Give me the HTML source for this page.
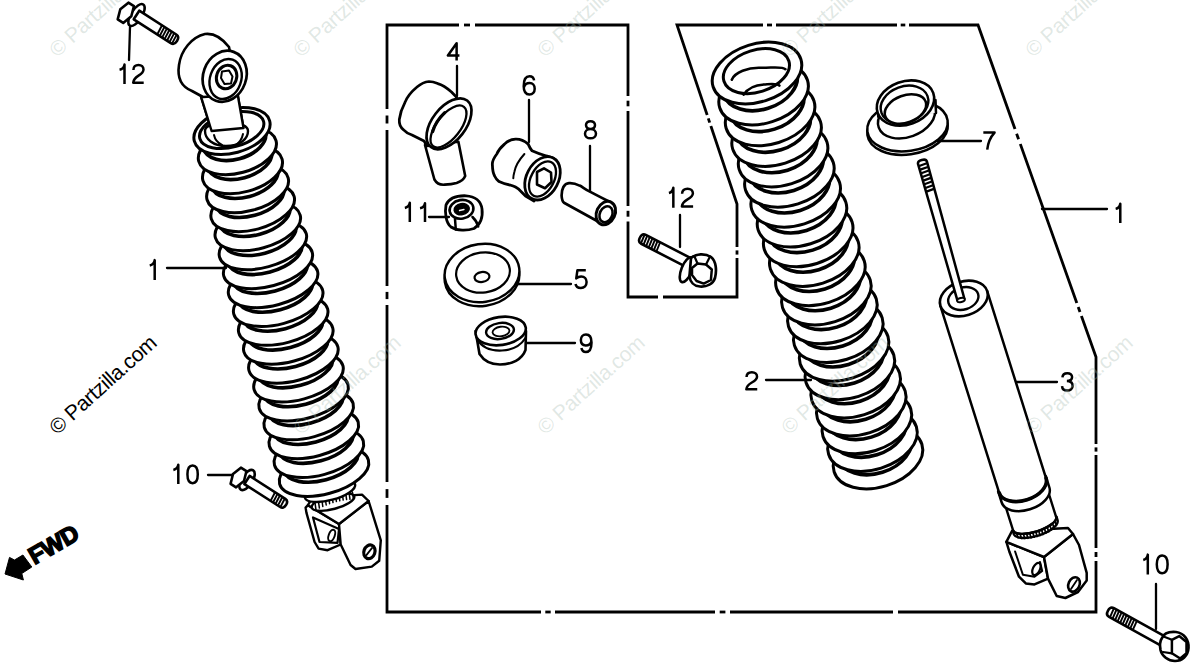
<!DOCTYPE html>
<html><head><meta charset="utf-8"><style>
html,body{margin:0;padding:0;background:#fff;}
svg{display:block;font-family:"Liberation Sans",sans-serif;}
</style></head><body>
<svg width="1200" height="672" viewBox="0 0 1200 672">
<rect width="1200" height="672" fill="#fff"/>
<path d="M387,25 L628,25 L628,297 L737,297 L737,204 L677,25 L978,25 L1096,357 L1096,612 L387,612 Z" fill="none" stroke="#000" stroke-width="2.8" stroke-linejoin="miter"/>
<line x1="459.0" y1="25.0" x2="475.0" y2="25.0" stroke="#fff" stroke-width="5"/>
<line x1="464.0" y1="25.0" x2="470.0" y2="25.0" stroke="#000" stroke-width="2.8"/>
<line x1="628.0" y1="96.0" x2="628.0" y2="111.0" stroke="#fff" stroke-width="5"/>
<line x1="628.0" y1="100.7" x2="628.0" y2="106.3" stroke="#000" stroke-width="2.8"/>
<line x1="628.0" y1="206.0" x2="628.0" y2="221.5" stroke="#fff" stroke-width="5"/>
<line x1="628.0" y1="210.8" x2="628.0" y2="216.7" stroke="#000" stroke-width="2.8"/>
<line x1="658.0" y1="297.0" x2="663.0" y2="297.0" stroke="#fff" stroke-width="5"/>
<line x1="737.0" y1="247.0" x2="737.0" y2="258.0" stroke="#fff" stroke-width="5"/>
<line x1="737.0" y1="250.4" x2="737.0" y2="254.6" stroke="#000" stroke-width="2.8"/>
<line x1="707.2" y1="115.0" x2="710.9" y2="126.0" stroke="#fff" stroke-width="5"/>
<line x1="708.3" y1="118.4" x2="709.7" y2="122.6" stroke="#000" stroke-width="2.8"/>
<line x1="763.0" y1="25.0" x2="776.0" y2="25.0" stroke="#fff" stroke-width="5"/>
<line x1="767.0" y1="25.0" x2="772.0" y2="25.0" stroke="#000" stroke-width="2.8"/>
<line x1="897.0" y1="25.0" x2="909.0" y2="25.0" stroke="#fff" stroke-width="5"/>
<line x1="900.7" y1="25.0" x2="905.3" y2="25.0" stroke="#000" stroke-width="2.8"/>
<line x1="1015.0" y1="129.0" x2="1020.3" y2="144.0" stroke="#fff" stroke-width="5"/>
<line x1="1016.6" y1="133.7" x2="1018.6" y2="139.3" stroke="#000" stroke-width="2.8"/>
<line x1="1076.8" y1="303.0" x2="1081.4" y2="316.0" stroke="#fff" stroke-width="5"/>
<line x1="1078.2" y1="307.0" x2="1080.0" y2="312.0" stroke="#000" stroke-width="2.8"/>
<line x1="1096.0" y1="444.0" x2="1096.0" y2="455.0" stroke="#fff" stroke-width="5"/>
<line x1="1096.0" y1="447.4" x2="1096.0" y2="451.6" stroke="#000" stroke-width="2.8"/>
<line x1="1096.0" y1="548.0" x2="1096.0" y2="561.0" stroke="#fff" stroke-width="5"/>
<line x1="1096.0" y1="552.0" x2="1096.0" y2="557.0" stroke="#000" stroke-width="2.8"/>
<line x1="541.0" y1="612.0" x2="555.0" y2="612.0" stroke="#fff" stroke-width="5"/>
<line x1="545.3" y1="612.0" x2="550.7" y2="612.0" stroke="#000" stroke-width="2.8"/>
<line x1="715.0" y1="612.0" x2="730.0" y2="612.0" stroke="#fff" stroke-width="5"/>
<line x1="719.7" y1="612.0" x2="725.4" y2="612.0" stroke="#000" stroke-width="2.8"/>
<line x1="893.0" y1="612.0" x2="898.0" y2="612.0" stroke="#fff" stroke-width="5"/>
<line x1="387.0" y1="109.0" x2="387.0" y2="130.0" stroke="#fff" stroke-width="5"/>
<line x1="387.0" y1="115.5" x2="387.0" y2="123.5" stroke="#000" stroke-width="2.8"/>
<line x1="387.0" y1="286.0" x2="387.0" y2="305.0" stroke="#fff" stroke-width="5"/>
<line x1="387.0" y1="291.9" x2="387.0" y2="299.1" stroke="#000" stroke-width="2.8"/>
<line x1="387.0" y1="482.0" x2="387.0" y2="505.0" stroke="#fff" stroke-width="5"/>
<line x1="387.0" y1="489.1" x2="387.0" y2="497.9" stroke="#000" stroke-width="2.8"/>
<path d="M305.6,507.6 L306.4,512.6 L314.6,542.0 L318.6,548.6 L327.6,550.2 L340.7,544.5 L339.0,524.0 L308.0,505.2 Z" fill="#fff" stroke="#000" stroke-width="2.4" stroke-linejoin="round" stroke-linecap="round"/>
<path d="M313.0,517.5 L319.5,542.0 L337.5,542.8 L339.0,529.0 L313.0,517.5" fill="none" stroke="#000" stroke-width="2.2" stroke-linejoin="round" stroke-linecap="round"/>
<path d="M339.0,524.0 L368.6,501.0 L380.8,540.4 L379.2,560.8 L371.8,566.6 L355.5,569.0 L350.6,565.0 L340.7,544.5 Z" fill="#fff" stroke="#000" stroke-width="2.4" stroke-linejoin="round" stroke-linecap="round"/>
<path d="M308.0,505.2 L339.0,524.0 L368.6,501.0 L362.0,494.6 L312.0,498.0 Z" fill="#fff" stroke="#000" stroke-width="2.4" stroke-linejoin="round" stroke-linecap="round"/>
<ellipse cx="369.4" cy="551.8" rx="5.5" ry="7.0" transform="rotate(20.0 369.4 551.8)" fill="#fff" stroke="#000" stroke-width="3.2"/>
<line x1="366.5" y1="555.0" x2="372.0" y2="548.0" stroke="#000" stroke-width="2" stroke-linecap="round"/>
<ellipse cx="331.7" cy="535.5" rx="3.0" ry="6.0" transform="rotate(20.0 331.7 535.5)" fill="#fff" stroke="#000" stroke-width="2"/>
<ellipse cx="333.0" cy="502.0" rx="22.0" ry="7.0" transform="rotate(-15.0 333.0 502.0)" fill="#fff" stroke="#000" stroke-width="2.4"/>
<line x1="315.0" y1="502.9" x2="316.0" y2="509.9" stroke="#000" stroke-width="1.5" stroke-linecap="round"/>
<line x1="318.4" y1="501.1" x2="319.4" y2="508.1" stroke="#000" stroke-width="1.5" stroke-linecap="round"/>
<line x1="321.8" y1="499.5" x2="322.8" y2="506.5" stroke="#000" stroke-width="1.5" stroke-linecap="round"/>
<line x1="325.2" y1="498.0" x2="326.2" y2="505.0" stroke="#000" stroke-width="1.5" stroke-linecap="round"/>
<line x1="328.6" y1="496.7" x2="329.6" y2="503.7" stroke="#000" stroke-width="1.5" stroke-linecap="round"/>
<line x1="332.0" y1="495.6" x2="333.0" y2="502.6" stroke="#000" stroke-width="1.5" stroke-linecap="round"/>
<line x1="335.4" y1="494.6" x2="336.4" y2="501.6" stroke="#000" stroke-width="1.5" stroke-linecap="round"/>
<line x1="338.8" y1="493.8" x2="339.8" y2="500.8" stroke="#000" stroke-width="1.5" stroke-linecap="round"/>
<line x1="342.2" y1="493.1" x2="343.2" y2="500.1" stroke="#000" stroke-width="1.5" stroke-linecap="round"/>
<line x1="345.6" y1="492.6" x2="346.6" y2="499.6" stroke="#000" stroke-width="1.5" stroke-linecap="round"/>
<line x1="349.0" y1="492.3" x2="350.0" y2="499.3" stroke="#000" stroke-width="1.5" stroke-linecap="round"/>
<line x1="352.4" y1="492.1" x2="353.4" y2="499.1" stroke="#000" stroke-width="1.5" stroke-linecap="round"/>
<ellipse cx="330.0" cy="491.0" rx="26.0" ry="9.0" transform="rotate(-15.0 330.0 491.0)" fill="#fff" stroke="#000" stroke-width="2.4"/>
<ellipse cx="324.0" cy="472.0" rx="46.0" ry="22.0" transform="rotate(-15.1 324.0 472.0)" fill="#fff" stroke="#000" stroke-width="3.0"/>
<ellipse cx="321.1" cy="461.4" rx="38.0" ry="19.0" transform="rotate(-15.1 321.1 461.4)" fill="#fff" stroke="#000" stroke-width="3.5999999999999996"/>
<ellipse cx="318.9" cy="453.1" rx="46.0" ry="22.0" transform="rotate(-15.1 318.9 453.1)" fill="#fff" stroke="#000" stroke-width="3.0"/>
<ellipse cx="316.0" cy="442.5" rx="38.0" ry="19.0" transform="rotate(-15.1 316.0 442.5)" fill="#fff" stroke="#000" stroke-width="3.5999999999999996"/>
<ellipse cx="313.8" cy="434.2" rx="46.0" ry="22.0" transform="rotate(-15.1 313.8 434.2)" fill="#fff" stroke="#000" stroke-width="3.0"/>
<ellipse cx="310.9" cy="423.6" rx="38.0" ry="19.0" transform="rotate(-15.1 310.9 423.6)" fill="#fff" stroke="#000" stroke-width="3.5999999999999996"/>
<ellipse cx="308.7" cy="415.4" rx="46.0" ry="22.0" transform="rotate(-15.1 308.7 415.4)" fill="#fff" stroke="#000" stroke-width="3.0"/>
<ellipse cx="305.9" cy="404.7" rx="38.0" ry="19.0" transform="rotate(-15.1 305.9 404.7)" fill="#fff" stroke="#000" stroke-width="3.5999999999999996"/>
<ellipse cx="303.6" cy="396.5" rx="46.0" ry="22.0" transform="rotate(-15.1 303.6 396.5)" fill="#fff" stroke="#000" stroke-width="3.0"/>
<ellipse cx="300.8" cy="385.9" rx="38.0" ry="19.0" transform="rotate(-15.1 300.8 385.9)" fill="#fff" stroke="#000" stroke-width="3.5999999999999996"/>
<ellipse cx="298.5" cy="377.6" rx="46.0" ry="22.0" transform="rotate(-15.1 298.5 377.6)" fill="#fff" stroke="#000" stroke-width="3.0"/>
<ellipse cx="295.7" cy="367.0" rx="38.0" ry="19.0" transform="rotate(-15.1 295.7 367.0)" fill="#fff" stroke="#000" stroke-width="3.5999999999999996"/>
<ellipse cx="293.4" cy="358.7" rx="46.0" ry="22.0" transform="rotate(-15.1 293.4 358.7)" fill="#fff" stroke="#000" stroke-width="3.0"/>
<ellipse cx="290.6" cy="348.1" rx="38.0" ry="19.0" transform="rotate(-15.1 290.6 348.1)" fill="#fff" stroke="#000" stroke-width="3.5999999999999996"/>
<ellipse cx="288.3" cy="339.8" rx="46.0" ry="22.0" transform="rotate(-15.1 288.3 339.8)" fill="#fff" stroke="#000" stroke-width="3.0"/>
<ellipse cx="285.5" cy="329.2" rx="38.0" ry="19.0" transform="rotate(-15.1 285.5 329.2)" fill="#fff" stroke="#000" stroke-width="3.5999999999999996"/>
<ellipse cx="283.2" cy="320.9" rx="46.0" ry="22.0" transform="rotate(-15.1 283.2 320.9)" fill="#fff" stroke="#000" stroke-width="3.0"/>
<ellipse cx="280.4" cy="310.3" rx="38.0" ry="19.0" transform="rotate(-15.1 280.4 310.3)" fill="#fff" stroke="#000" stroke-width="3.5999999999999996"/>
<ellipse cx="278.2" cy="302.1" rx="46.0" ry="22.0" transform="rotate(-15.1 278.2 302.1)" fill="#fff" stroke="#000" stroke-width="3.0"/>
<ellipse cx="275.3" cy="291.4" rx="38.0" ry="19.0" transform="rotate(-15.1 275.3 291.4)" fill="#fff" stroke="#000" stroke-width="3.5999999999999996"/>
<ellipse cx="273.1" cy="283.2" rx="46.0" ry="22.0" transform="rotate(-15.1 273.1 283.2)" fill="#fff" stroke="#000" stroke-width="3.0"/>
<ellipse cx="270.2" cy="272.6" rx="38.0" ry="19.0" transform="rotate(-15.1 270.2 272.6)" fill="#fff" stroke="#000" stroke-width="3.5999999999999996"/>
<ellipse cx="268.0" cy="264.3" rx="45.8" ry="22.0" transform="rotate(-15.1 268.0 264.3)" fill="#fff" stroke="#000" stroke-width="3.0"/>
<ellipse cx="265.1" cy="253.7" rx="37.8" ry="19.0" transform="rotate(-15.1 265.1 253.7)" fill="#fff" stroke="#000" stroke-width="3.5999999999999996"/>
<ellipse cx="262.9" cy="245.4" rx="44.9" ry="22.0" transform="rotate(-15.1 262.9 245.4)" fill="#fff" stroke="#000" stroke-width="3.0"/>
<ellipse cx="260.0" cy="234.8" rx="36.9" ry="19.0" transform="rotate(-15.1 260.0 234.8)" fill="#fff" stroke="#000" stroke-width="3.5999999999999996"/>
<ellipse cx="257.8" cy="226.5" rx="43.9" ry="22.0" transform="rotate(-15.1 257.8 226.5)" fill="#fff" stroke="#000" stroke-width="3.0"/>
<ellipse cx="254.9" cy="215.9" rx="35.9" ry="19.0" transform="rotate(-15.1 254.9 215.9)" fill="#fff" stroke="#000" stroke-width="3.5999999999999996"/>
<ellipse cx="252.7" cy="207.6" rx="42.9" ry="22.0" transform="rotate(-15.1 252.7 207.6)" fill="#fff" stroke="#000" stroke-width="3.0"/>
<ellipse cx="249.8" cy="197.0" rx="34.9" ry="19.0" transform="rotate(-15.1 249.8 197.0)" fill="#fff" stroke="#000" stroke-width="3.5999999999999996"/>
<ellipse cx="247.6" cy="188.8" rx="42.0" ry="22.0" transform="rotate(-15.1 247.6 188.8)" fill="#fff" stroke="#000" stroke-width="3.0"/>
<ellipse cx="244.7" cy="178.1" rx="34.0" ry="19.0" transform="rotate(-15.1 244.7 178.1)" fill="#fff" stroke="#000" stroke-width="3.5999999999999996"/>
<ellipse cx="242.5" cy="169.9" rx="41.0" ry="22.0" transform="rotate(-15.1 242.5 169.9)" fill="#fff" stroke="#000" stroke-width="3.0"/>
<ellipse cx="239.6" cy="159.3" rx="33.0" ry="19.0" transform="rotate(-15.1 239.6 159.3)" fill="#fff" stroke="#000" stroke-width="3.5999999999999996"/>
<ellipse cx="237.4" cy="151.0" rx="40.0" ry="22.0" transform="rotate(-15.1 237.4 151.0)" fill="#fff" stroke="#000" stroke-width="3.0"/>
<ellipse cx="234.5" cy="140.4" rx="32.0" ry="19.0" transform="rotate(-15.1 234.5 140.4)" fill="#fff" stroke="#000" stroke-width="3.5999999999999996"/>
<ellipse cx="232.0" cy="131.0" rx="39.0" ry="22.0" transform="rotate(-15.1 232.0 131.0)" fill="#fff" stroke="#000" stroke-width="3.0"/>
<ellipse cx="231.7" cy="130.0" rx="33.0" ry="17.0" transform="rotate(-15.1 231.7 130.0)" fill="#fff" stroke="#000" stroke-width="3.0"/>
<path d="M201.0,96.6 L211.6,131.0 L243.5,128.0 L237.7,94.7 Z" fill="#fff" stroke="#000" stroke-width="2.4" stroke-linejoin="round" stroke-linecap="round"/>
<path d="M205,131 C205,139 213,146 226,146 C240,146 248,139 248,131 C248,126 240,123 226,123 C213,123 205,126 205,131 Z" fill="#fff" stroke="#000" stroke-width="2.4" stroke-linejoin="round" stroke-linecap="round"/>
<path d="M214,135 C215,140 218,143 222,145 M236,145 C240,142 242,139 243,134" fill="none" stroke="#000" stroke-width="2" stroke-linejoin="round" stroke-linecap="round"/>
<path d="M201.0,96.6 L211.6,131.0 L243.5,128.0 L237.7,94.7 Z" fill="#fff" stroke="#000" stroke-width="2.4" stroke-linejoin="round" stroke-linecap="round"/>
<path d="M229,47 C222,38 213,33 205,34 C192,37 181,50 179,65 C177,78 182,87 192,91 L203,97 L238,95 Z" fill="#fff" stroke="#000" stroke-width="2.6" stroke-linejoin="round" stroke-linecap="round"/>
<ellipse cx="224.7" cy="76.3" rx="21.5" ry="26.0" transform="rotate(20.0 224.7 76.3)" fill="#fff" stroke="#000" stroke-width="2.7"/>
<ellipse cx="225.6" cy="79.0" rx="15.5" ry="20.5" transform="rotate(20.0 225.6 79.0)" fill="#fff" stroke="#000" stroke-width="2.4"/>
<ellipse cx="226.6" cy="77.0" rx="10.0" ry="12.0" transform="rotate(20.0 226.6 77.0)" fill="#fff" stroke="#000" stroke-width="3"/>
<path d="M222.0,71.5 L229.0,70.5 L232.5,76.5 L231.0,83.5 L224.5,84.0 L221.0,78.0 Z" fill="none" stroke="#000" stroke-width="2" stroke-linejoin="round" stroke-linecap="round"/>
<ellipse cx="136.5" cy="15.0" rx="5.5" ry="12.5" transform="rotate(32.7 136.5 15.0)" fill="#fff" stroke="#000" stroke-width="2.6"/>
<path d="M131.3,16.3 L123.2,22.9 L117.7,19.4 L120.3,9.3 L128.4,2.7 L133.9,6.2 Z" fill="#fff" stroke="#000" stroke-width="2.6" stroke-linejoin="round" stroke-linecap="round"/>
<g transform="translate(136.5 15.0) rotate(32.7)" stroke-linejoin="round"><path d="M0.0,-5.1 L44.0,-5.1 Q48.1,-5.1 48.1,0 Q48.1,5.1 44.0,5.1 L0.0,5.1 Z" fill="#fff" stroke="#000" stroke-width="2.6"/><line x1="27.1" y1="-4.6" x2="27.9" y2="4.6" stroke="#000" stroke-width="1.9"/><line x1="30.0" y1="-4.6" x2="30.8" y2="4.6" stroke="#000" stroke-width="1.9"/><line x1="32.9" y1="-4.6" x2="33.7" y2="4.6" stroke="#000" stroke-width="1.9"/><line x1="35.8" y1="-4.6" x2="36.6" y2="4.6" stroke="#000" stroke-width="1.9"/><line x1="38.7" y1="-4.6" x2="39.5" y2="4.6" stroke="#000" stroke-width="1.9"/><line x1="41.6" y1="-4.6" x2="42.4" y2="4.6" stroke="#000" stroke-width="1.9"/><line x1="44.5" y1="-4.6" x2="45.3" y2="4.6" stroke="#000" stroke-width="1.9"/></g>
<ellipse cx="247.0" cy="480.0" rx="5.5" ry="11.5" transform="rotate(32.7 247.0 480.0)" fill="#fff" stroke="#000" stroke-width="2.6"/>
<path d="M244.0,481.0 L236.1,487.3 L230.6,483.8 L233.0,474.0 L240.9,467.7 L246.4,471.2 Z" fill="#fff" stroke="#000" stroke-width="2.6" stroke-linejoin="round" stroke-linecap="round"/>
<g transform="translate(247.0 480.0) rotate(32.7)" stroke-linejoin="round"><path d="M0.0,-4.8 L42.5,-4.8 Q46.3,-4.8 46.3,0 Q46.3,4.8 42.5,4.8 L0.0,4.8 Z" fill="#fff" stroke="#000" stroke-width="2.6"/><line x1="30.3" y1="-4.3" x2="31.1" y2="4.3" stroke="#000" stroke-width="1.9"/><line x1="33.2" y1="-4.3" x2="34.0" y2="4.3" stroke="#000" stroke-width="1.9"/><line x1="36.1" y1="-4.3" x2="36.9" y2="4.3" stroke="#000" stroke-width="1.9"/><line x1="39.0" y1="-4.3" x2="39.8" y2="4.3" stroke="#000" stroke-width="1.9"/><line x1="41.9" y1="-4.3" x2="42.7" y2="4.3" stroke="#000" stroke-width="1.9"/></g>
<path d="M425,145 L434.4,179.5 C437,184 441,185 444.7,184.6 C449,184.5 453,184 456.6,183 C461,181.5 464,179 465.2,176 L458.4,141.8 Z" fill="#fff" stroke="#000" stroke-width="2.6" stroke-linejoin="round" stroke-linecap="round"/>
<path d="M456.6,97.3 L451.5,92 C447,88 443,85 437.8,83.6 C434,82 431,81.5 429,81.5 C424,82 420,84.5 417,87 C411,92 407,97 405,102.4 C402,108 400,114 399.3,119.5 C399,124 400.5,127.5 403.6,129.8 C406,132.5 409,134 412,135 C416,137 420,139 424,141 L427,146 L440,145 Z" fill="#fff" stroke="#000" stroke-width="2.7" stroke-linejoin="round" stroke-linecap="round"/>
<ellipse cx="449.0" cy="123.8" rx="29.5" ry="16.8" transform="rotate(-52.0 449.0 123.8)" fill="#fff" stroke="#000" stroke-width="2.7"/>
<ellipse cx="448.5" cy="126.5" rx="25.0" ry="11.8" transform="rotate(-52.0 448.5 126.5)" fill="#fff" stroke="#000" stroke-width="2.3"/>
<path d="M444.7,112.7 C439,118 435,124 432.7,131.5" fill="none" stroke="#000" stroke-width="3.2" stroke-linejoin="round" stroke-linecap="round"/>
<path d="M528.2,144.1 C524,140.5 520,139 515.5,139.2 C510,139.5 507,141.5 504.5,144.1 C500,148 498,151 496.8,154 C493,159 492,162 492.4,165 C492.5,170 493,173 494.6,176 C496,179 497.5,180.5 499,181.6 C503,183.5 507,184.5 510,185 C512,185.6 514,186.3 515.5,187.1 C518,188.5 520,190 521,191.5 C523,193.5 524.5,195 525.5,196 L534,201 L556,160 C552,157 548,156.5 545,155.5 C540,154 536,152.5 532,150.7 C530,148.5 529,146 528.2,144.1 Z" fill="#fff" stroke="#000" stroke-width="2.8" stroke-linejoin="round" stroke-linecap="round"/>
<path d="M524.4,154 C519,160 515.5,166 514.4,171.7 C513.5,175 513.3,177 513.3,178.3" fill="none" stroke="#000" stroke-width="2" stroke-linejoin="round" stroke-linecap="round"/>
<ellipse cx="542.5" cy="178.3" rx="23.0" ry="16.0" transform="rotate(-62.0 542.5 178.3)" fill="#fff" stroke="#000" stroke-width="2.8"/>
<ellipse cx="542.5" cy="179.0" rx="19.0" ry="11.5" transform="rotate(-62.0 542.5 179.0)" fill="#fff" stroke="#000" stroke-width="2.3"/>
<path d="M537.0,172.0 L544.0,168.4 L551.0,172.5 L551.5,182.0 L545.0,188.2 L537.0,184.5 Z" fill="none" stroke="#000" stroke-width="2.6" stroke-linejoin="round" stroke-linecap="round"/>
<path d="M569,183.2 C564,183.5 561.5,189 561.6,195.5 C561.8,199 562.5,201.5 564,202.8 L598,221.5 L611,202.5 C605,199.5 600,197 589.4,191.4 C584,188.5 582,186.5 579.6,185.6 C576,183.8 572,183 569,183.2 Z" fill="#fff" stroke="#000" stroke-width="2.7" stroke-linejoin="round" stroke-linecap="round"/>
<ellipse cx="605.8" cy="213.1" rx="9.2" ry="12.2" transform="rotate(25.0 605.8 213.1)" fill="#fff" stroke="#000" stroke-width="3"/>
<ellipse cx="606.0" cy="214.2" rx="6.2" ry="8.3" transform="rotate(25.0 606.0 214.2)" fill="#fff" stroke="#000" stroke-width="2.6"/>
<path d="M446,205 C449,198 457,195.5 466,195.8 C475,196.2 481,201 482,209 C483,217 481,224 474,228.5 C467,231 457,231 451,227 C446,223 444.5,213 446,205 Z" fill="#fff" stroke="#000" stroke-width="2.8" stroke-linejoin="round" stroke-linecap="round"/>
<ellipse cx="461.5" cy="209.3" rx="12.0" ry="9.3" transform="rotate(-10.0 461.5 209.3)" fill="#fff" stroke="#000" stroke-width="2.6"/>
<ellipse cx="461.7" cy="209.2" rx="7.6" ry="5.5" transform="rotate(-10.0 461.7 209.2)" fill="#000" stroke="#000" stroke-width="1.5"/>
<line x1="459.5" y1="210.5" x2="464.0" y2="209.5" stroke="#fff" stroke-width="1.3" stroke-linecap="round"/>
<path d="M455,219 L455.8,229.5 M472.5,217 C475.5,220 477.5,223 478.2,226.5" fill="none" stroke="#000" stroke-width="2.5" stroke-linejoin="round" stroke-linecap="round"/>
<ellipse cx="482.0" cy="277.0" rx="37.5" ry="29.0" transform="rotate(-8.0 482.0 277.0)" fill="#fff" stroke="#000" stroke-width="2.4"/>
<ellipse cx="482.0" cy="273.0" rx="37.5" ry="29.0" transform="rotate(-8.0 482.0 273.0)" fill="#fff" stroke="#000" stroke-width="2.4"/>
<ellipse cx="483.0" cy="272.5" rx="27.0" ry="20.0" transform="rotate(-8.0 483.0 272.5)" fill="#fff" stroke="#000" stroke-width="2.2"/>
<ellipse cx="482.0" cy="277.0" rx="7.5" ry="5.0" transform="rotate(-8.0 482.0 277.0)" fill="#fff" stroke="#000" stroke-width="2.2"/>
<path d="M475.6,331 L479.5,354 C484,361 491,364.5 500,364.5 C512,364.5 522,359.5 525.5,350 L526,331 Z" fill="#fff" stroke="#000" stroke-width="2.6" stroke-linejoin="round" stroke-linecap="round"/>
<path d="M477,339 C482,348 492,351 502,350.5 C513,350 521,345 525.5,338" fill="none" stroke="#000" stroke-width="2.2" stroke-linejoin="round" stroke-linecap="round"/>
<ellipse cx="500.7" cy="331.0" rx="25.3" ry="14.0" transform="rotate(-8.0 500.7 331.0)" fill="#fff" stroke="#000" stroke-width="2.6"/>
<ellipse cx="500.0" cy="331.0" rx="14.0" ry="8.0" transform="rotate(-8.0 500.0 331.0)" fill="#fff" stroke="#000" stroke-width="2.4"/>
<ellipse cx="501.0" cy="331.5" rx="8.5" ry="4.8" transform="rotate(-8.0 501.0 331.5)" fill="#fff" stroke="#000" stroke-width="1.8"/>
<g transform="translate(701.0 269.0) rotate(-152.7)" stroke-linejoin="round"><path d="M0.0,-5.0 L64.7,-5.0 Q68.7,-5.0 68.7,0 Q68.7,5.0 64.7,5.0 L0.0,5.0 Z" fill="#fff" stroke="#000" stroke-width="2.6"/><line x1="47.7" y1="-4.5" x2="48.5" y2="4.5" stroke="#000" stroke-width="1.9"/><line x1="50.6" y1="-4.5" x2="51.4" y2="4.5" stroke="#000" stroke-width="1.9"/><line x1="53.5" y1="-4.5" x2="54.3" y2="4.5" stroke="#000" stroke-width="1.9"/><line x1="56.4" y1="-4.5" x2="57.2" y2="4.5" stroke="#000" stroke-width="1.9"/><line x1="59.3" y1="-4.5" x2="60.1" y2="4.5" stroke="#000" stroke-width="1.9"/><line x1="62.2" y1="-4.5" x2="63.0" y2="4.5" stroke="#000" stroke-width="1.9"/><line x1="65.1" y1="-4.5" x2="65.9" y2="4.5" stroke="#000" stroke-width="1.9"/></g>
<ellipse cx="686.7" cy="269.7" rx="5.3" ry="13.2" transform="rotate(22.0 686.7 269.7)" fill="#fff" stroke="#000" stroke-width="2.6"/>
<path d="M691,258 C696,253.5 705,253 711,257 C716,261 717,270 715,278 C713,284 707,287 700,286.5 C694,286 690,282 689.5,276 Z" fill="#fff" stroke="#000" stroke-width="2.7" stroke-linejoin="round" stroke-linecap="round"/>
<path d="M692.0,268.0 L697.5,263.5 L706.0,264.5 L711.8,269.5 L710.9,280.0 L703.7,283.6 L696.6,281.0 L692.0,275.0 Z" fill="none" stroke="#000" stroke-width="2.5" stroke-linejoin="round" stroke-linecap="round"/>
<line x1="697.5" y1="263.5" x2="694.5" y2="256.5" stroke="#000" stroke-width="2.2" stroke-linecap="round"/>
<line x1="706.0" y1="264.5" x2="709.5" y2="257.5" stroke="#000" stroke-width="2.2" stroke-linecap="round"/>
<ellipse cx="878.0" cy="458.0" rx="46.0" ry="29.0" transform="rotate(-17.4 878.0 458.0)" fill="#fff" stroke="#000" stroke-width="3.0"/>
<ellipse cx="874.7" cy="447.5" rx="38.0" ry="26.0" transform="rotate(-17.4 874.7 447.5)" fill="#fff" stroke="#000" stroke-width="3.5999999999999996"/>
<ellipse cx="872.5" cy="440.5" rx="46.0" ry="29.0" transform="rotate(-17.4 872.5 440.5)" fill="#fff" stroke="#000" stroke-width="3.0"/>
<ellipse cx="869.2" cy="430.0" rx="38.0" ry="26.0" transform="rotate(-17.4 869.2 430.0)" fill="#fff" stroke="#000" stroke-width="3.5999999999999996"/>
<ellipse cx="866.9" cy="422.8" rx="46.0" ry="29.0" transform="rotate(-17.4 866.9 422.8)" fill="#fff" stroke="#000" stroke-width="3.0"/>
<ellipse cx="863.6" cy="412.3" rx="38.0" ry="26.0" transform="rotate(-17.4 863.6 412.3)" fill="#fff" stroke="#000" stroke-width="3.5999999999999996"/>
<ellipse cx="861.3" cy="404.9" rx="46.0" ry="29.0" transform="rotate(-17.4 861.3 404.9)" fill="#fff" stroke="#000" stroke-width="3.0"/>
<ellipse cx="858.0" cy="394.5" rx="38.0" ry="26.0" transform="rotate(-17.4 858.0 394.5)" fill="#fff" stroke="#000" stroke-width="3.5999999999999996"/>
<ellipse cx="855.7" cy="386.9" rx="46.0" ry="29.0" transform="rotate(-17.4 855.7 386.9)" fill="#fff" stroke="#000" stroke-width="3.0"/>
<ellipse cx="852.4" cy="376.4" rx="38.0" ry="26.0" transform="rotate(-17.4 852.4 376.4)" fill="#fff" stroke="#000" stroke-width="3.5999999999999996"/>
<ellipse cx="849.9" cy="368.7" rx="46.0" ry="29.0" transform="rotate(-17.4 849.9 368.7)" fill="#fff" stroke="#000" stroke-width="3.0"/>
<ellipse cx="846.6" cy="358.2" rx="38.0" ry="26.0" transform="rotate(-17.4 846.6 358.2)" fill="#fff" stroke="#000" stroke-width="3.5999999999999996"/>
<ellipse cx="844.1" cy="350.2" rx="46.0" ry="29.0" transform="rotate(-17.4 844.1 350.2)" fill="#fff" stroke="#000" stroke-width="3.0"/>
<ellipse cx="840.8" cy="339.7" rx="38.0" ry="26.0" transform="rotate(-17.4 840.8 339.7)" fill="#fff" stroke="#000" stroke-width="3.5999999999999996"/>
<ellipse cx="838.3" cy="331.6" rx="46.0" ry="29.0" transform="rotate(-17.4 838.3 331.6)" fill="#fff" stroke="#000" stroke-width="3.0"/>
<ellipse cx="835.0" cy="321.1" rx="38.0" ry="26.0" transform="rotate(-17.4 835.0 321.1)" fill="#fff" stroke="#000" stroke-width="3.5999999999999996"/>
<ellipse cx="832.4" cy="312.8" rx="46.0" ry="29.0" transform="rotate(-17.4 832.4 312.8)" fill="#fff" stroke="#000" stroke-width="3.0"/>
<ellipse cx="829.1" cy="302.3" rx="38.0" ry="26.0" transform="rotate(-17.4 829.1 302.3)" fill="#fff" stroke="#000" stroke-width="3.5999999999999996"/>
<ellipse cx="826.4" cy="293.9" rx="46.0" ry="29.0" transform="rotate(-17.4 826.4 293.9)" fill="#fff" stroke="#000" stroke-width="3.0"/>
<ellipse cx="823.1" cy="283.4" rx="38.0" ry="26.0" transform="rotate(-17.4 823.1 283.4)" fill="#fff" stroke="#000" stroke-width="3.5999999999999996"/>
<ellipse cx="820.4" cy="274.7" rx="46.0" ry="29.0" transform="rotate(-17.4 820.4 274.7)" fill="#fff" stroke="#000" stroke-width="3.0"/>
<ellipse cx="817.1" cy="264.2" rx="38.0" ry="26.0" transform="rotate(-17.4 817.1 264.2)" fill="#fff" stroke="#000" stroke-width="3.5999999999999996"/>
<ellipse cx="814.3" cy="255.4" rx="46.0" ry="29.0" transform="rotate(-17.4 814.3 255.4)" fill="#fff" stroke="#000" stroke-width="3.0"/>
<ellipse cx="811.0" cy="244.9" rx="38.0" ry="26.0" transform="rotate(-17.4 811.0 244.9)" fill="#fff" stroke="#000" stroke-width="3.5999999999999996"/>
<ellipse cx="808.2" cy="235.8" rx="46.0" ry="29.0" transform="rotate(-17.4 808.2 235.8)" fill="#fff" stroke="#000" stroke-width="3.0"/>
<ellipse cx="804.9" cy="225.3" rx="38.0" ry="26.0" transform="rotate(-17.4 804.9 225.3)" fill="#fff" stroke="#000" stroke-width="3.5999999999999996"/>
<ellipse cx="802.0" cy="216.1" rx="46.0" ry="29.0" transform="rotate(-17.4 802.0 216.1)" fill="#fff" stroke="#000" stroke-width="3.0"/>
<ellipse cx="798.7" cy="205.6" rx="38.0" ry="26.0" transform="rotate(-17.4 798.7 205.6)" fill="#fff" stroke="#000" stroke-width="3.5999999999999996"/>
<ellipse cx="795.7" cy="196.2" rx="46.0" ry="29.0" transform="rotate(-17.4 795.7 196.2)" fill="#fff" stroke="#000" stroke-width="3.0"/>
<ellipse cx="792.4" cy="185.7" rx="38.0" ry="26.0" transform="rotate(-17.4 792.4 185.7)" fill="#fff" stroke="#000" stroke-width="3.5999999999999996"/>
<ellipse cx="789.4" cy="176.2" rx="46.0" ry="29.0" transform="rotate(-17.4 789.4 176.2)" fill="#fff" stroke="#000" stroke-width="3.0"/>
<ellipse cx="786.1" cy="165.7" rx="38.0" ry="26.0" transform="rotate(-17.4 786.1 165.7)" fill="#fff" stroke="#000" stroke-width="3.5999999999999996"/>
<ellipse cx="783.1" cy="155.9" rx="46.0" ry="29.0" transform="rotate(-17.4 783.1 155.9)" fill="#fff" stroke="#000" stroke-width="3.0"/>
<ellipse cx="779.8" cy="145.4" rx="38.0" ry="26.0" transform="rotate(-17.4 779.8 145.4)" fill="#fff" stroke="#000" stroke-width="3.5999999999999996"/>
<ellipse cx="776.6" cy="135.4" rx="46.0" ry="29.0" transform="rotate(-17.4 776.6 135.4)" fill="#fff" stroke="#000" stroke-width="3.0"/>
<ellipse cx="773.3" cy="125.0" rx="38.0" ry="26.0" transform="rotate(-17.4 773.3 125.0)" fill="#fff" stroke="#000" stroke-width="3.5999999999999996"/>
<ellipse cx="770.1" cy="114.8" rx="46.0" ry="29.0" transform="rotate(-17.4 770.1 114.8)" fill="#fff" stroke="#000" stroke-width="3.0"/>
<ellipse cx="766.8" cy="104.3" rx="38.0" ry="26.0" transform="rotate(-17.4 766.8 104.3)" fill="#fff" stroke="#000" stroke-width="3.5999999999999996"/>
<ellipse cx="763.6" cy="94.0" rx="46.0" ry="29.0" transform="rotate(-17.4 763.6 94.0)" fill="#fff" stroke="#000" stroke-width="3.0"/>
<ellipse cx="760.3" cy="83.5" rx="38.0" ry="26.0" transform="rotate(-17.4 760.3 83.5)" fill="#fff" stroke="#000" stroke-width="3.5999999999999996"/>
<ellipse cx="757.0" cy="73.0" rx="46.0" ry="29.0" transform="rotate(-17.4 757.0 73.0)" fill="#fff" stroke="#000" stroke-width="3.0"/>
<ellipse cx="756.4" cy="71.1" rx="34.0" ry="21.0" transform="rotate(-17.4 756.4 71.1)" fill="#fff" stroke="#000" stroke-width="3.0"/>
<path d="M731.8,79.7 C735,72 748,67.5 760,67.8 C772,68 782,66 785.4,69.2" fill="none" stroke="#000" stroke-width="2.6" stroke-linejoin="round" stroke-linecap="round"/>
<path d="M743.7,94.6 C748,88 756,85 764,84.5 C771,84 777,83 779.4,85.6" fill="none" stroke="#000" stroke-width="2.6" stroke-linejoin="round" stroke-linecap="round"/>
<ellipse cx="907.5" cy="129.5" rx="40.5" ry="25.0" transform="rotate(-8.0 907.5 129.5)" fill="#fff" stroke="#000" stroke-width="2.5"/>
<ellipse cx="907.5" cy="126.0" rx="40.5" ry="25.0" transform="rotate(-8.0 907.5 126.0)" fill="#fff" stroke="#000" stroke-width="2.5"/>
<ellipse cx="906.5" cy="117.5" rx="29.5" ry="19.5" transform="rotate(-20.0 906.5 117.5)" fill="#fff" stroke="#000" stroke-width="2.5"/>
<path d="M877.0,103.0 L878.5,116.0 L935.5,113.0 L934.0,99.0 Z" fill="#fff" stroke="#000" stroke-width="0.1" stroke-linejoin="round" stroke-linecap="round"/>
<line x1="877.3" y1="104.0" x2="878.3" y2="117.0" stroke="#000" stroke-width="2.5" stroke-linecap="round"/>
<line x1="935.5" y1="100.0" x2="936.0" y2="113.0" stroke="#000" stroke-width="2.5" stroke-linecap="round"/>
<ellipse cx="905.5" cy="103.0" rx="29.5" ry="21.5" transform="rotate(-20.0 905.5 103.0)" fill="#fff" stroke="#000" stroke-width="2.6"/>
<ellipse cx="904.5" cy="104.5" rx="24.5" ry="18.0" transform="rotate(-20.0 904.5 104.5)" fill="#fff" stroke="#000" stroke-width="2.4"/>
<ellipse cx="905.5" cy="109.0" rx="21.5" ry="13.5" transform="rotate(-20.0 905.5 109.0)" fill="#fff" stroke="#000" stroke-width="2.6"/>
<path d="M1006.4,541.9 L1009.3,551.5 L1019.0,576.7 L1025.8,583.4 L1034.5,584.4 L1048.0,578.6 L1044.0,557.0 Z" fill="#fff" stroke="#000" stroke-width="2.5" stroke-linejoin="round" stroke-linecap="round"/>
<path d="M1015.1,551.5 L1022.9,574.7 L1034.5,576.7 L1042.2,570.9 L1040.0,562.0" fill="none" stroke="#000" stroke-width="2.0" stroke-linejoin="round" stroke-linecap="round"/>
<path d="M1044.0,557.0 L1073.0,534.0 L1079.0,545.0 L1086.7,572.8 L1086.7,580.5 L1078.0,592.0 L1065.4,598.0 L1056.7,596.0 L1048.0,578.6 Z" fill="#fff" stroke="#000" stroke-width="2.5" stroke-linejoin="round" stroke-linecap="round"/>
<path d="M1006.4,541.9 L1044.0,557.0 L1073.0,534.0 L1068.0,528.0 L1012.0,531.0 Z" fill="#fff" stroke="#000" stroke-width="2.5" stroke-linejoin="round" stroke-linecap="round"/>
<ellipse cx="1074.0" cy="584.4" rx="5.5" ry="7.5" transform="rotate(25.0 1074.0 584.4)" fill="#fff" stroke="#000" stroke-width="2.6"/>
<line x1="1071.0" y1="589.0" x2="1077.0" y2="580.0" stroke="#000" stroke-width="1.8" stroke-linecap="round"/>
<ellipse cx="1036.4" cy="569.0" rx="3.5" ry="6.5" transform="rotate(25.0 1036.4 569.0)" fill="#fff" stroke="#000" stroke-width="2.2"/>
<path d="M1012.7,530.5 L1013.9,534.4 A23,9 -17.5 0 0 1057.7,520.6 L1056.5,516.7 Z" fill="#fff" stroke="#000" stroke-width="2.4" stroke-linejoin="round" stroke-linecap="round"/>
<line x1="1016.7" y1="533.4" x2="1018.1" y2="537.7" stroke="#000" stroke-width="1.7" stroke-linecap="round"/>
<line x1="1020.1" y1="533.9" x2="1021.5" y2="538.4" stroke="#000" stroke-width="1.7" stroke-linecap="round"/>
<line x1="1023.4" y1="533.9" x2="1024.8" y2="538.5" stroke="#000" stroke-width="1.7" stroke-linecap="round"/>
<line x1="1026.5" y1="533.6" x2="1028.0" y2="538.3" stroke="#000" stroke-width="1.7" stroke-linecap="round"/>
<line x1="1029.6" y1="533.1" x2="1031.1" y2="537.8" stroke="#000" stroke-width="1.7" stroke-linecap="round"/>
<line x1="1032.7" y1="532.5" x2="1034.2" y2="537.2" stroke="#000" stroke-width="1.7" stroke-linecap="round"/>
<line x1="1035.7" y1="531.7" x2="1037.2" y2="536.5" stroke="#000" stroke-width="1.7" stroke-linecap="round"/>
<line x1="1038.6" y1="530.7" x2="1040.1" y2="535.5" stroke="#000" stroke-width="1.7" stroke-linecap="round"/>
<line x1="1041.5" y1="529.7" x2="1043.0" y2="534.4" stroke="#000" stroke-width="1.7" stroke-linecap="round"/>
<line x1="1044.4" y1="528.4" x2="1045.9" y2="533.2" stroke="#000" stroke-width="1.7" stroke-linecap="round"/>
<line x1="1047.2" y1="527.0" x2="1048.7" y2="531.7" stroke="#000" stroke-width="1.7" stroke-linecap="round"/>
<line x1="1049.9" y1="525.4" x2="1051.4" y2="530.0" stroke="#000" stroke-width="1.7" stroke-linecap="round"/>
<line x1="1052.6" y1="523.6" x2="1054.0" y2="528.0" stroke="#000" stroke-width="1.7" stroke-linecap="round"/>
<line x1="1055.1" y1="521.1" x2="1056.4" y2="525.4" stroke="#000" stroke-width="1.7" stroke-linecap="round"/>
<path d="M1003.5,499.9 L1013.1,530.4 A22.5,8 -17.5 0 0 1056.1,516.9 L1046.5,486.4 Z" fill="#fff" stroke="#000" stroke-width="2.4" stroke-linejoin="round" stroke-linecap="round"/>
<path d="M1013.1,530.4 A22.5,8 -17.5 0 0 1056.1,516.9" fill="none" stroke="#000" stroke-width="2.4" stroke-linejoin="round" stroke-linecap="round"/>
<path d="M998.1,491.1 L1001.7,502.5 A25.0,15 -17.5 0 0 1049.4,487.5 L1045.8,476.1 Z" fill="#fff" stroke="#000" stroke-width="2.5" stroke-linejoin="round" stroke-linecap="round"/>
<path d="M940.4,305.9 L999.2,492.8 A24.5,15 -17.5 0 0 1046.0,478.1 L987.2,291.1 Z" fill="#fff" stroke="#000" stroke-width="2.5" stroke-linejoin="round" stroke-linecap="round"/>
<path d="M999.2,492.8 A24.5,15 -17.5 0 0 1046.0,478.1" fill="none" stroke="#000" stroke-width="3.6" stroke-linejoin="round" stroke-linecap="round"/>
<ellipse cx="963.8" cy="298.5" rx="24.5" ry="17.0" transform="rotate(-17.5 963.8 298.5)" fill="#fff" stroke="#000" stroke-width="2.6"/>
<ellipse cx="963.3" cy="298.5" rx="15.5" ry="11.0" transform="rotate(-17.5 963.3 298.5)" fill="#fff" stroke="#000" stroke-width="2.4"/>
<g transform="translate(921.7 160) rotate(74.32)"><path d="M145.4,-3.6 L3,-4.6 Q0,-4.6 0,0 Q0,4.6 3,4.6 L145.4,3.6" fill="#fff" stroke="#000" stroke-width="2.5" stroke-linejoin="round"/><line x1="4.5" y1="-4" x2="5.1" y2="4" stroke="#000" stroke-width="2.2"/><line x1="8.3" y1="-4" x2="8.9" y2="4" stroke="#000" stroke-width="2.2"/><line x1="12.1" y1="-4" x2="12.7" y2="4" stroke="#000" stroke-width="2.2"/><line x1="15.9" y1="-4" x2="16.5" y2="4" stroke="#000" stroke-width="2.2"/><line x1="19.7" y1="-4" x2="20.3" y2="4" stroke="#000" stroke-width="2.2"/><line x1="23.5" y1="-4" x2="24.1" y2="4" stroke="#000" stroke-width="2.2"/><line x1="27.3" y1="-4" x2="27.9" y2="4" stroke="#000" stroke-width="2.2"/><line x1="31.1" y1="-4" x2="31.7" y2="4" stroke="#000" stroke-width="2.2"/><ellipse cx="145.4" cy="0" rx="2" ry="4" fill="#fff" stroke="#000" stroke-width="2"/></g>
<g transform="translate(1172.0 646.0) rotate(-151.1)" stroke-linejoin="round"><path d="M0.0,-5.0 L69.1,-5.0 Q73.1,-5.0 73.1,0 Q73.1,5.0 69.1,5.0 L0.0,5.0 Z" fill="#fff" stroke="#000" stroke-width="2.6"/><line x1="42.1" y1="-4.5" x2="42.9" y2="4.5" stroke="#000" stroke-width="1.9"/><line x1="45.0" y1="-4.5" x2="45.8" y2="4.5" stroke="#000" stroke-width="1.9"/><line x1="47.9" y1="-4.5" x2="48.7" y2="4.5" stroke="#000" stroke-width="1.9"/><line x1="50.8" y1="-4.5" x2="51.6" y2="4.5" stroke="#000" stroke-width="1.9"/><line x1="53.7" y1="-4.5" x2="54.5" y2="4.5" stroke="#000" stroke-width="1.9"/><line x1="56.6" y1="-4.5" x2="57.4" y2="4.5" stroke="#000" stroke-width="1.9"/><line x1="59.5" y1="-4.5" x2="60.3" y2="4.5" stroke="#000" stroke-width="1.9"/><line x1="62.4" y1="-4.5" x2="63.2" y2="4.5" stroke="#000" stroke-width="1.9"/><line x1="65.3" y1="-4.5" x2="66.1" y2="4.5" stroke="#000" stroke-width="1.9"/><line x1="68.2" y1="-4.5" x2="69.0" y2="4.5" stroke="#000" stroke-width="1.9"/></g>
<path d="M1162,638 C1164,633 1170,631.5 1176,632 C1184,633 1189,640 1188.5,648 C1188,656 1182,661 1175,661 C1168,661 1162,656 1160.5,650 C1159.5,645 1160,641 1162,638 Z" fill="#fff" stroke="#000" stroke-width="2.7" stroke-linejoin="round" stroke-linecap="round"/>
<path d="M1171.9,639.8 L1179.2,636.1 L1186.5,641.9 L1186.5,653.3 L1180.2,658.5 L1171.9,653.3 Z" fill="none" stroke="#000" stroke-width="2.5" stroke-linejoin="round" stroke-linecap="round"/>
<line x1="1171.9" y1="639.8" x2="1163.5" y2="636.5" stroke="#000" stroke-width="2.2" stroke-linecap="round"/>
<line x1="1171.9" y1="653.3" x2="1163.0" y2="652.0" stroke="#000" stroke-width="2.2" stroke-linecap="round"/>
<path d="M1.25,5.8 C3.5,5.3 5.7,3.8 6.2,0.6 L6.2,20" transform="translate(118.30 64.00) scale(1.000 1.000)" fill="none" stroke="#000" stroke-width="2.5" vector-effect="non-scaling-stroke" stroke-linecap="butt" stroke-linejoin="round"/>
<path d="M1.5,6.2 C1.5,3 3.5,1.25 6.6,1.25 C9.6,1.25 11.6,3.1 11.6,5.8 C11.6,8.6 9.6,10 6.6,11.8 C3.6,13.6 1.6,15.6 1.3,18.75 L11.8,18.75" transform="translate(131.90 63.60) scale(1.000 1.020)" fill="none" stroke="#000" stroke-width="2.5" vector-effect="non-scaling-stroke" stroke-linecap="butt" stroke-linejoin="round"/>
<path d="M1.25,5.8 C3.5,5.3 5.7,3.8 6.2,0.6 L6.2,20" transform="translate(148.50 259.50) scale(1.000 1.025)" fill="none" stroke="#000" stroke-width="2.5" vector-effect="non-scaling-stroke" stroke-linecap="butt" stroke-linejoin="round"/>
<path d="M1.25,5.8 C3.5,5.3 5.7,3.8 6.2,0.6 L6.2,20" transform="translate(172.10 464.20) scale(1.000 0.990)" fill="none" stroke="#000" stroke-width="2.5" vector-effect="non-scaling-stroke" stroke-linecap="butt" stroke-linejoin="round"/>
<path d="M6.5,1.25 C10,1.25 11.75,4.5 11.75,10 C11.75,15.5 10,18.75 6.5,18.75 C3,18.75 1.25,15.5 1.25,10 C1.25,4.5 3,1.25 6.5,1.25 Z" transform="translate(186.20 464.20) scale(0.985 1.010)" fill="none" stroke="#000" stroke-width="2.5" vector-effect="non-scaling-stroke" stroke-linecap="butt" stroke-linejoin="round"/>
<path d="M9.2,18.75 L9.2,1.25 L1.25,13.8 L11.75,13.8" transform="translate(446.50 42.00) scale(1.100 0.985)" fill="none" stroke="#000" stroke-width="2.5" vector-effect="non-scaling-stroke" stroke-linecap="butt" stroke-linejoin="round"/>
<path d="M11.2,5.2 C10.8,2.8 9.2,1.25 6.8,1.25 C3.2,1.25 1.25,4.6 1.25,10.8 C1.25,16 3.3,18.75 6.7,18.75 C9.8,18.75 11.75,16.5 11.75,13.2 C11.75,9.9 9.8,7.8 6.9,7.8 C4.3,7.8 2.2,9.4 1.4,12" transform="translate(522.40 75.00) scale(1.046 1.035)" fill="none" stroke="#000" stroke-width="2.5" vector-effect="non-scaling-stroke" stroke-linecap="butt" stroke-linejoin="round"/>
<path d="M6.5,9.3 C3.8,9.3 2.2,7.7 2.2,5.3 C2.2,2.9 4,1.25 6.5,1.25 C9,1.25 10.8,2.9 10.8,5.3 C10.8,7.7 9.2,9.3 6.5,9.3 C3.4,9.3 1.25,11.2 1.25,14 C1.25,16.9 3.4,18.75 6.5,18.75 C9.6,18.75 11.75,16.9 11.75,14 C11.75,11.2 9.6,9.3 6.5,9.3 Z" transform="translate(583.70 119.90) scale(1.046 0.985)" fill="none" stroke="#000" stroke-width="2.5" vector-effect="non-scaling-stroke" stroke-linecap="butt" stroke-linejoin="round"/>
<path d="M1.25,5.8 C3.5,5.3 5.7,3.8 6.2,0.6 L6.2,20" transform="translate(403.60 202.20) scale(1.000 0.990)" fill="none" stroke="#000" stroke-width="2.5" vector-effect="non-scaling-stroke" stroke-linecap="butt" stroke-linejoin="round"/>
<path d="M1.25,5.8 C3.5,5.3 5.7,3.8 6.2,0.6 L6.2,20" transform="translate(418.80 202.70) scale(1.000 0.965)" fill="none" stroke="#000" stroke-width="2.5" vector-effect="non-scaling-stroke" stroke-linecap="butt" stroke-linejoin="round"/>
<path d="M11,1.25 L3,1.25 L1.9,9.3 C3.2,8 4.8,7.3 6.6,7.3 C9.8,7.3 11.75,9.6 11.75,12.9 C11.75,16.4 9.6,18.75 6.3,18.75 C3.5,18.75 1.6,17.2 1.25,14.8" transform="translate(574.25 269.10) scale(1.050 1.005)" fill="none" stroke="#000" stroke-width="2.5" vector-effect="non-scaling-stroke" stroke-linecap="butt" stroke-linejoin="round"/>
<path d="M1.8,14.8 C2.2,17.2 3.8,18.75 6.2,18.75 C9.8,18.75 11.75,15.4 11.75,9.2 C11.75,4 9.7,1.25 6.3,1.25 C3.2,1.25 1.25,3.5 1.25,6.8 C1.25,10.1 3.2,12.2 6.1,12.2 C8.7,12.2 10.8,10.6 11.6,8" transform="translate(579.60 333.30) scale(1.015 0.995)" fill="none" stroke="#000" stroke-width="2.5" vector-effect="non-scaling-stroke" stroke-linecap="butt" stroke-linejoin="round"/>
<path d="M1.25,5.8 C3.5,5.3 5.7,3.8 6.2,0.6 L6.2,20" transform="translate(667.80 187.10) scale(0.893 1.030)" fill="none" stroke="#000" stroke-width="2.5" vector-effect="non-scaling-stroke" stroke-linecap="butt" stroke-linejoin="round"/>
<path d="M1.5,6.2 C1.5,3 3.5,1.25 6.6,1.25 C9.6,1.25 11.6,3.1 11.6,5.8 C11.6,8.6 9.6,10 6.6,11.8 C3.6,13.6 1.6,15.6 1.3,18.75 L11.8,18.75" transform="translate(680.50 187.40) scale(1.069 1.015)" fill="none" stroke="#000" stroke-width="2.5" vector-effect="non-scaling-stroke" stroke-linecap="butt" stroke-linejoin="round"/>
<path d="M1.5,6.2 C1.5,3 3.5,1.25 6.6,1.25 C9.6,1.25 11.6,3.1 11.6,5.8 C11.6,8.6 9.6,10 6.6,11.8 C3.6,13.6 1.6,15.6 1.3,18.75 L11.8,18.75" transform="translate(745.00 371.00) scale(1.038 0.975)" fill="none" stroke="#000" stroke-width="2.5" vector-effect="non-scaling-stroke" stroke-linecap="butt" stroke-linejoin="round"/>
<path d="M1.25,1.25 L11.75,1.25 C8.2,5.5 5.6,11.5 4.9,18.75" transform="translate(982.00 131.40) scale(1.069 0.970)" fill="none" stroke="#000" stroke-width="2.5" vector-effect="non-scaling-stroke" stroke-linecap="butt" stroke-linejoin="round"/>
<path d="M1.25,5.8 C3.5,5.3 5.7,3.8 6.2,0.6 L6.2,20" transform="translate(1114.50 203.10) scale(0.933 0.995)" fill="none" stroke="#000" stroke-width="2.5" vector-effect="non-scaling-stroke" stroke-linecap="butt" stroke-linejoin="round"/>
<path d="M1.6,5.6 C1.8,2.9 3.8,1.25 6.5,1.25 C9.3,1.25 11.2,2.9 11.2,5.2 C11.2,7.6 9.4,9.2 6,9.2 M6,9.2 C9.7,9.2 11.75,11.2 11.75,14 C11.75,16.9 9.5,18.75 6.4,18.75 C3.3,18.75 1.4,17 1.25,14.3" transform="translate(1060.80 371.90) scale(1.008 0.993)" fill="none" stroke="#000" stroke-width="2.5" vector-effect="non-scaling-stroke" stroke-linecap="butt" stroke-linejoin="round"/>
<path d="M1.25,5.8 C3.5,5.3 5.7,3.8 6.2,0.6 L6.2,20" transform="translate(1142.10 554.00) scale(0.920 1.025)" fill="none" stroke="#000" stroke-width="2.5" vector-effect="non-scaling-stroke" stroke-linecap="butt" stroke-linejoin="round"/>
<path d="M6.5,1.25 C10,1.25 11.75,4.5 11.75,10 C11.75,15.5 10,18.75 6.5,18.75 C3,18.75 1.25,15.5 1.25,10 C1.25,4.5 3,1.25 6.5,1.25 Z" transform="translate(1155.50 554.20) scale(1.031 1.015)" fill="none" stroke="#000" stroke-width="2.5" vector-effect="non-scaling-stroke" stroke-linecap="butt" stroke-linejoin="round"/>
<line x1="130.0" y1="27.0" x2="129.0" y2="60.0" stroke="#000" stroke-width="2.3" stroke-linecap="round"/>
<line x1="167.0" y1="268.0" x2="226.0" y2="268.0" stroke="#000" stroke-width="2.3" stroke-linecap="round"/>
<line x1="208.0" y1="475.0" x2="232.0" y2="475.0" stroke="#000" stroke-width="2.3" stroke-linecap="round"/>
<line x1="457.0" y1="66.0" x2="457.0" y2="96.0" stroke="#000" stroke-width="2.3" stroke-linecap="round"/>
<line x1="529.0" y1="100.0" x2="529.0" y2="142.0" stroke="#000" stroke-width="2.3" stroke-linecap="round"/>
<line x1="590.0" y1="146.0" x2="590.0" y2="191.0" stroke="#000" stroke-width="2.3" stroke-linecap="round"/>
<line x1="429.0" y1="217.0" x2="449.0" y2="217.0" stroke="#000" stroke-width="2.3" stroke-linecap="round"/>
<line x1="517.0" y1="284.0" x2="571.0" y2="284.0" stroke="#000" stroke-width="2.3" stroke-linecap="round"/>
<line x1="527.0" y1="343.0" x2="575.0" y2="343.0" stroke="#000" stroke-width="2.3" stroke-linecap="round"/>
<line x1="680.0" y1="215.0" x2="680.0" y2="247.0" stroke="#000" stroke-width="2.3" stroke-linecap="round"/>
<line x1="766.0" y1="380.0" x2="811.0" y2="380.0" stroke="#000" stroke-width="2.3" stroke-linecap="round"/>
<line x1="937.0" y1="141.0" x2="981.0" y2="141.0" stroke="#000" stroke-width="2.3" stroke-linecap="round"/>
<line x1="1042.0" y1="209.0" x2="1107.0" y2="209.0" stroke="#000" stroke-width="2.3" stroke-linecap="round"/>
<line x1="1016.0" y1="382.0" x2="1057.0" y2="382.0" stroke="#000" stroke-width="2.3" stroke-linecap="round"/>
<line x1="1156.0" y1="584.0" x2="1156.0" y2="629.0" stroke="#000" stroke-width="2.3" stroke-linecap="round"/>
<path d="M5,574 L9.5,557.4 L14.5,560 L22.9,555 L31.8,567 L21.8,573.5 L23.4,580 Z" fill="#000" stroke="#000" stroke-width="1" stroke-linejoin="round"/>
<text x="34.5" y="565" font-size="24" text-anchor="start" font-weight="bold" fill="#000" transform="rotate(-30 34.5 565)" stroke="#000" stroke-width="1.5" letter-spacing="-0.5">FWD</text>
<text x="57.3" y="57.9" font-size="21" text-anchor="start" font-weight="normal" fill="#9fb8ac" transform="rotate(-42 57.3 57.9)" letter-spacing="-0.4" fill-opacity="0.33">&#169; Partzilla.com</text>
<text x="301.3" y="57.9" font-size="21" text-anchor="start" font-weight="normal" fill="#9fb8ac" transform="rotate(-42 301.3 57.9)" letter-spacing="-0.4" fill-opacity="0.33">&#169; Partzilla.com</text>
<text x="545.3" y="57.9" font-size="21" text-anchor="start" font-weight="normal" fill="#9fb8ac" transform="rotate(-42 545.3 57.9)" letter-spacing="-0.4" fill-opacity="0.33">&#169; Partzilla.com</text>
<text x="789.3" y="57.9" font-size="21" text-anchor="start" font-weight="normal" fill="#9fb8ac" transform="rotate(-42 789.3 57.9)" letter-spacing="-0.4" fill-opacity="0.33">&#169; Partzilla.com</text>
<text x="1033.3" y="57.9" font-size="21" text-anchor="start" font-weight="normal" fill="#9fb8ac" transform="rotate(-42 1033.3 57.9)" letter-spacing="-0.4" fill-opacity="0.33">&#169; Partzilla.com</text>
<text x="301.3" y="435.4" font-size="21" text-anchor="start" font-weight="normal" fill="#9fb8ac" transform="rotate(-42 301.3 435.4)" letter-spacing="-0.4" fill-opacity="0.33">&#169; Partzilla.com</text>
<text x="545.3" y="435.4" font-size="21" text-anchor="start" font-weight="normal" fill="#9fb8ac" transform="rotate(-42 545.3 435.4)" letter-spacing="-0.4" fill-opacity="0.33">&#169; Partzilla.com</text>
<text x="789.3" y="435.4" font-size="21" text-anchor="start" font-weight="normal" fill="#9fb8ac" transform="rotate(-42 789.3 435.4)" letter-spacing="-0.4" fill-opacity="0.33">&#169; Partzilla.com</text>
<text x="1033.3" y="435.4" font-size="21" text-anchor="start" font-weight="normal" fill="#9fb8ac" transform="rotate(-42 1033.3 435.4)" letter-spacing="-0.4" fill-opacity="0.33">&#169; Partzilla.com</text>
<text x="57.3" y="435.4" font-size="21" text-anchor="start" font-weight="normal" fill="#000" transform="rotate(-42 57.3 435.4)" letter-spacing="-0.4">&#169; Partzilla.com</text>
</svg></body></html>
